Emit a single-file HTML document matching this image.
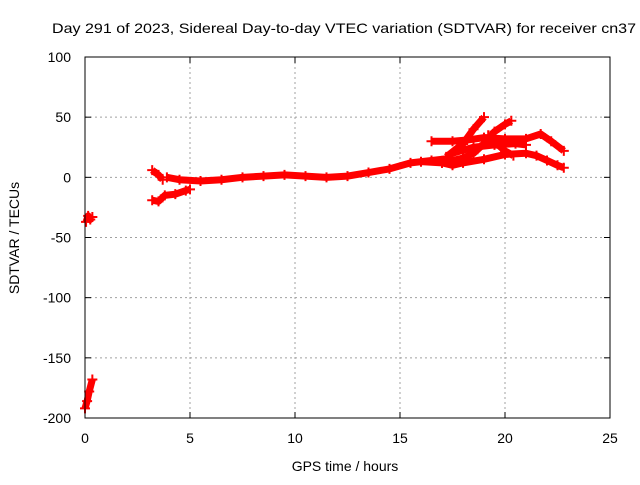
<!DOCTYPE html>
<html><head><meta charset="utf-8"><style>
body{margin:0;background:#fff}
svg text{font-family:"Liberation Sans",sans-serif;font-size:14px;fill:#000}
</style></head><body>
<svg width="640" height="480" id="c">
<text x="52" y="33" textLength="584" lengthAdjust="spacingAndGlyphs">Day 291 of 2023, Sidereal Day-to-day VTEC variation (SDTVAR) for receiver cn37</text>
<text x="345" y="471" text-anchor="middle">GPS time / hours</text>
<text transform="translate(19,238) rotate(-90)" text-anchor="middle">SDTVAR / TECUs</text>
<g id="grid"></g><g id="ticks"></g><g id="data"></g>
<rect x="85" y="57" width="525" height="361" fill="none" stroke="#000" stroke-width="1"/>
</svg>
<script>
const xTicks=[0,5,10,15,20,25];
const yTicks=[100,50,0,-50,-100,-150,-200];
const seriesA=[[0.05,-37],[0.15,-32],[0.25,-35],[0.35,-33]];
const seriesB=[[0.0,-192],[0.1,-186],[0.2,-178],[0.35,-168]];
const seriesC=[[3.2,6],[3.5,2],[3.7,-2]];
const seriesD=[[3.2,-19],[3.5,-20],[3.8,-15],[4.3,-14],[4.8,-11],[5.0,-10]];
const seriesE=[[3.9,0],[4.5,-2],[5.5,-3],[6.5,-2],[7.5,0],[8.5,1],[9.5,2],[10.5,1],[11.5,0],[12.5,1],[13.5,4],[14.5,7],[15.5,12],[16.5,14],[17.5,16]];
const seriesF=[[16,13],[17,12],[17.5,14],[18,16],[18.5,20],[19,28],[19.5,38],[20,44],[20.3,47]];
const seriesG=[[17.2,17],[18,28],[18.5,40],[19,50]];
const seriesH=[[17,12],[17.5,10],[18,12],[19,15],[20,19],[21,20],[21.5,18],[22,14],[22.5,10],[22.8,8]];
const seriesI=[[16.5,30],[17.5,30],[18.2,31],[19,33],[20,32],[21,32],[21.7,36],[22.2,30],[22.8,22]];
const seriesJ=[[17.5,20],[18.5,25],[19.5,27],[20.5,28],[21,27]];
const seriesK=[[19.2,35],[19.6,28],[20.0,22],[20.4,18]];
const allSeries=[seriesA,seriesB,seriesC,seriesD,seriesE,seriesF,seriesG,seriesH,seriesI,seriesJ,seriesK];
const X=v=>85+v/25*525, Y=v=>57+(100-v)/300*361;
const NS='http://www.w3.org/2000/svg';
function mk(t,a,p){const e=document.createElementNS(NS,t);for(const k in a)e.setAttribute(k,a[k]);p.appendChild(e);return e;}
const g=document.getElementById('grid'),tk=document.getElementById('ticks'),d=document.getElementById('data');
xTicks.forEach(v=>{const x=X(v);
 if(v>0&&v<25){const l=mk('line',{x1:x,x2:x,y1:57,y2:418,stroke:'#a0a0a0','stroke-dasharray':'2,3'},g);
 }
 mk('line',{x1:x,x2:x,y1:418,y2:412,stroke:'#000'},tk);mk('line',{x1:x,x2:x,y1:57,y2:63,stroke:'#000'},tk);
 const t=mk('text',{x:x,y:443,'text-anchor':'middle'},tk);t.textContent=v;
 });
yTicks.forEach(v=>{const y=Y(v);
 if(v<100&&v>-200){const l=mk('line',{x1:85,x2:610,y1:y,y2:y,stroke:'#a0a0a0','stroke-dasharray':'2,3'},g);
 }
 mk('line',{x1:85,x2:91,y1:y,y2:y,stroke:'#000'},tk);mk('line',{x1:610,x2:604,y1:y,y2:y,stroke:'#000'},tk);
 const t=mk('text',{x:71,y:y+5,'text-anchor':'end'},tk);t.textContent=v;
 });
allSeries.forEach((s,i)=>{
 const p=mk('polyline',{points:s.map(q=>X(q[0])+','+Y(q[1])).join(' '),fill:'none',stroke:'#f00','stroke-width':7,'stroke-linejoin':'round'},d);
 
 s.forEach(q=>{const x=X(q[0]),y=Y(q[1]);
  const m=mk('path',{d:`M${x-5},${y}h10M${x},${y-5}v10`,stroke:'#f00','stroke-width':2},d);
  });
});
</script>
</body></html>
